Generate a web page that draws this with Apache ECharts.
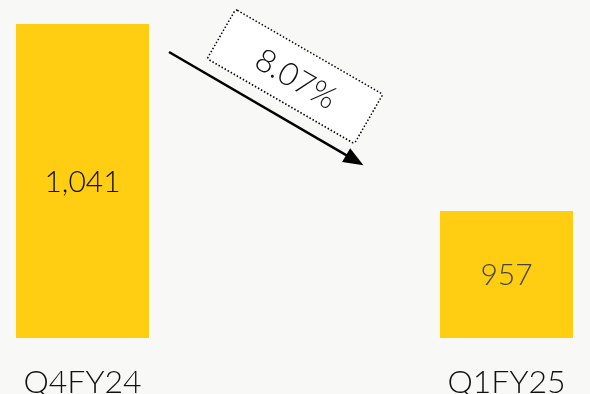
<!DOCTYPE html>
<html>
<head>
<meta charset="utf-8">
<script src="https://cdn.jsdelivr.net/npm/echarts@6/dist/echarts.min.js"></script>
<style>
html,body{margin:0;padding:0;background:#F8F8F6;}
#c{width:590px;height:394px;}
</style>
</head>
<body>
<div id="c"></div>
<script>
const categories = ['Q4FY24', 'Q1FY25'];
const values = [1041, 957];
const valueLabels = ['1,041', '957'];
const labelColors = ['#111111', '#444444'];
const axisMin = 900;
const changeText = '8.07%';

const FONT = 'Lato';
const chart = echarts.init(document.getElementById('c'), null, {renderer: 'canvas'});

const option = {
  backgroundColor: '#F8F8F6',
  animation: false,
  grid: {left: 82.5, right: 83.5, top: 24, bottom: 56, containLabel: false, outerBoundsMode: 'none'},
  xAxis: {
    type: 'category',
    data: categories,
    boundaryGap: false,
    axisLine: {show: false},
    axisTick: {show: false},
    axisLabel: {
      margin: 29,
      fontSize: 32,
      fontFamily: FONT,
      fontWeight: 300,
      color: '#111111'
    }
  },
  yAxis: {
    type: 'value',
    min: axisMin,
    max: 1041,
    show: false,
    splitLine: {show: false}
  },
  series: [
    {
      type: 'bar',
      stack: 'b',
      barWidth: 133,
      clip: false,
      silent: true,
      data: values.map(() => axisMin),
      itemStyle: {color: 'rgba(0,0,0,0)'}
    },
    {
      type: 'bar',
      stack: 'b',
      barWidth: 133,
      clip: false,
      data: values.map((v, i) => ({
        value: v - axisMin,
        label: {color: labelColors[i]}
      })),
      itemStyle: {color: '#FFCD11'},
      label: {
        show: true,
        position: 'inside',
        offset: [0, 1],
        fontSize: 30,
        fontFamily: FONT,
        fontWeight: 300,
        formatter: p => valueLabels[p.dataIndex]
      }
    }
  ],
  graphic: [
    {
      type: 'group',
      x: 169, y: 52,
      rotation: -Math.atan2(113, 194),
      children: [
        {type: 'line', shape: {x1: 0, y1: 0, x2: 208, y2: 0}, style: {stroke: '#000', lineWidth: 2.5}},
        {type: 'polygon', shape: {points: [[225, 0], [205, -8], [205, 8]]}, style: {fill: '#000'}}
      ]
    },
    {
      type: 'group',
      x: 295, y: 76.5,
      rotation: -Math.PI / 6,
      children: [
        {type: 'rect', shape: {x: -85, y: -28.5, width: 170, height: 57, r: 2},
         style: {fill: '#FFFFFF', stroke: '#000', lineWidth: 1.5, lineDash: [1.5, 2]}},
        {type: 'text', x: 2, y: 2, style: {text: changeText, fontSize: 32, fontFamily: FONT, fontWeight: 300,
          fill: '#111', align: 'center', verticalAlign: 'middle'}}
      ]
    }
  ]
};
chart.setOption(option);
</script>
</body>
</html>
